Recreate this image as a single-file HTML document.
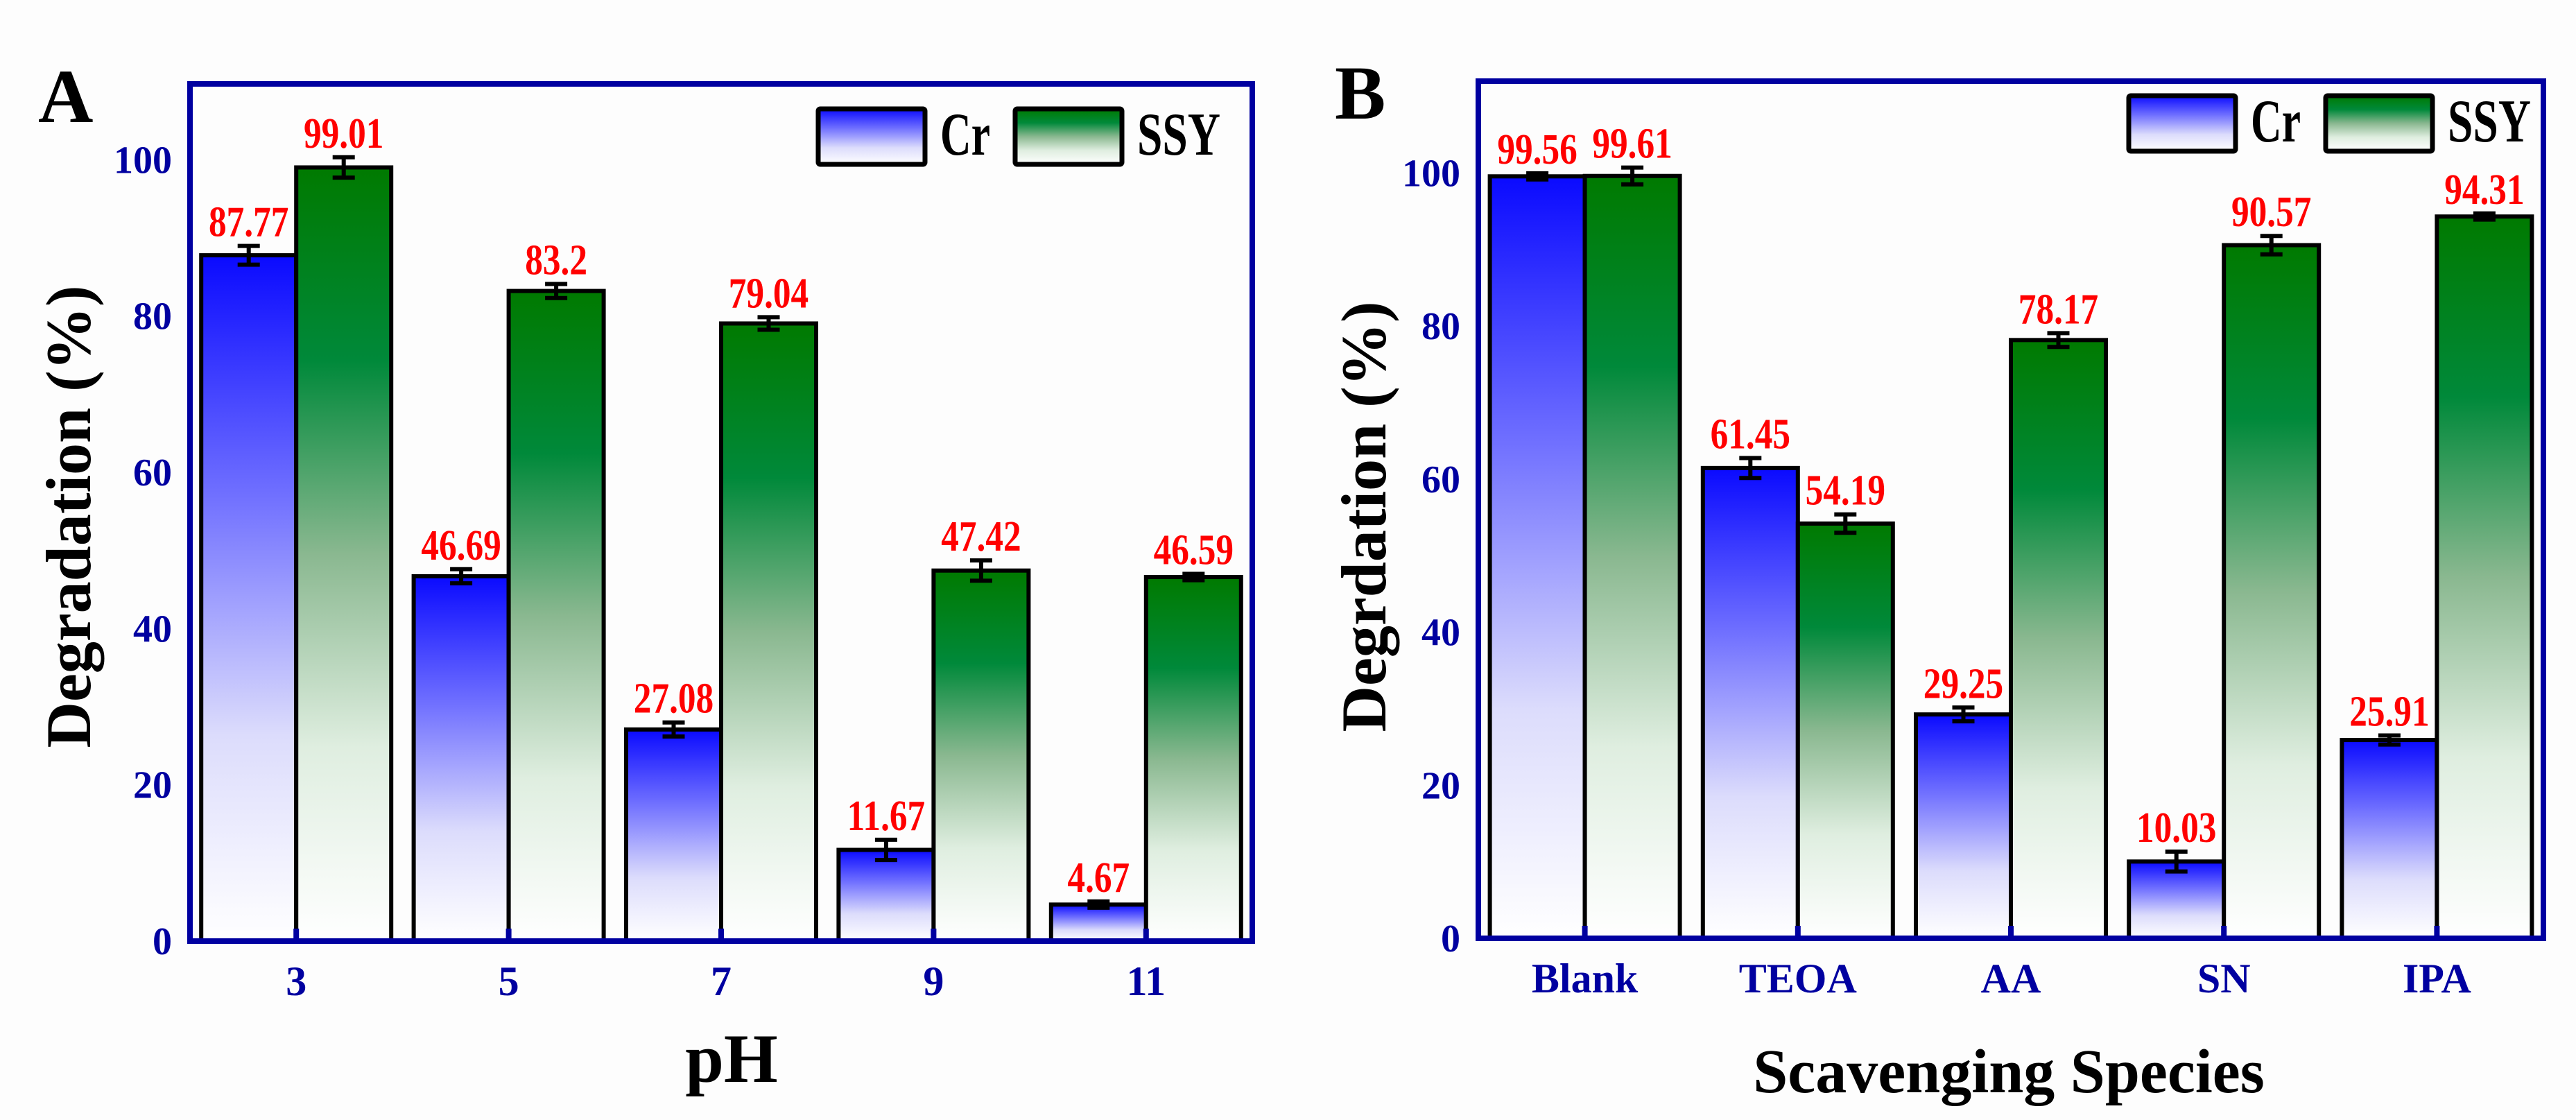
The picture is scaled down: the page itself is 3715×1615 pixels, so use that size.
<!DOCTYPE html>
<html><head><meta charset="utf-8"><style>
html,body{margin:0;padding:0;background:#fdfdfd;}
svg{display:block;}
text{font-family:"Liberation Serif",serif;}
</style></head>
<body>
<svg id="fig" xmlns="http://www.w3.org/2000/svg" width="3715" height="1615" viewBox="0 0 3715 1615">
<defs>
<linearGradient id="gBlue" x1="0" y1="0" x2="0" y2="1">
<stop offset="0" stop-color="#0a0aff"/><stop offset="0.35" stop-color="#7070ff"/><stop offset="0.7" stop-color="#dcdcfc"/><stop offset="1" stop-color="#ffffff"/>
</linearGradient>
<linearGradient id="gGreen" x1="0" y1="0" x2="0" y2="1">
<stop offset="0" stop-color="#007a00"/><stop offset="0.25" stop-color="#00893a"/><stop offset="0.5" stop-color="#8ab890"/><stop offset="0.75" stop-color="#dfeee0"/><stop offset="1" stop-color="#ffffff"/>
</linearGradient>
</defs>
<g id="panelA"></g>
<g id="panelB"></g>
</svg>
<script>
const catsA = ["3","5","7","9","11"];
const crA = [87.77, 46.69, 27.08, 11.67, 4.67];
const ssyA = [99.01, 83.2, 79.04, 47.42, 46.59];
const crErrA = [1.2, 0.9, 0.9, 1.3, 0.4];
const ssyErrA = [1.3, 0.9, 0.8, 1.3, 0.4];
const crLblA = ["87.77","46.69","27.08","11.67","4.67"];
const ssyLblA = ["99.01","83.2","79.04","47.42","46.59"];

const catsB = ["Blank","TEOA","AA","SN","IPA"];
const crB = [99.56, 61.45, 29.25, 10.03, 25.91];
const ssyB = [99.61, 54.19, 78.17, 90.57, 94.31];
const crErrB = [0.4, 1.3, 0.9, 1.3, 0.6];
const ssyErrB = [1.1, 1.2, 0.9, 1.2, 0.4];
const crLblB = ["99.56","61.45","29.25","10.03","25.91"];
const ssyLblB = ["99.61","54.19","78.17","90.57","94.31"];

const yTicks = [0,20,40,60,80,100];

const NS = "http://www.w3.org/2000/svg";
function mk(parent, tag, attrs, txt){
  const e = document.createElementNS(NS, tag);
  for (const k in attrs) e.setAttribute(k, attrs[k]);
  if (txt !== undefined) e.textContent = txt;
  parent.appendChild(e);
  return e;
}

function drawPanel(g, cfg){
  const {L,R,T,B,yMax,cats,cr,ssy,crErr,ssyErr,crLbl,ssyLbl} = cfg;
  const n = cats.length;
  const slot = (R-L)/n;
  const xC = i => L + slot*(i+0.5);
  const yS = v => B - (B-T)*v/yMax;
  const bw = 137;

  let t;
  t = mk(g,"text",{x:cfg.letterX,y:cfg.letterY,"font-size":110,"font-weight":"bold",fill:"#000"},cfg.letter);
  
  

  const series = [[cr,crErr,crLbl,"url(#gBlue)",-1,"cr"],[ssy,ssyErr,ssyLbl,"url(#gGreen)",0,"ssy"]];
  series.forEach(([vals,errs,lbls,fill,off,nm])=>{
    vals.forEach((v,i)=>{
      const x = xC(i) + off*bw;
      const y = yS(v);
      const r = mk(g,"rect",{x:x,y:y,width:bw,height:B-y,fill:fill,stroke:"#000","stroke-width":6});
      
      
      const cx = x + bw/2;
      const e1 = yS(v+errs[i]), e2 = yS(v-errs[i]);
      const eb = mk(g,"path",{d:`M${cx},${e1}V${e2}M${cx-16},${e1}H${cx+16}M${cx-16},${e2}H${cx+16}`,stroke:"#000","stroke-width":6,fill:"none"});
      
      
      const ly = e1-14;
      const lb = mk(g,"text",{x:cx,y:ly,"text-anchor":"middle","font-size":54,"font-weight":"bold",fill:"#ff0000",transform:`translate(${cx},${ly}) scale(0.95,1.15) translate(${-cx},${-ly})`},lbls[i]);
      
      
    });
  });

  const fr = mk(g,"rect",{x:L,y:T,width:R-L,height:B-T,fill:"none",stroke:"#0000a0","stroke-width":8});
  
  

  yTicks.forEach(v=>{
    const y = yS(v);
    const tk = mk(g,"text",{x:L-26,y:y+19,"text-anchor":"end","font-size":56,"font-weight":"bold",fill:"#0000a0"},String(v));
    
    
  });
  cats.forEach((c,i)=>{
    const x = xC(i);
    const tm = mk(g,"line",{x1:x,x2:x,y1:B,y2:B-18,stroke:"#0000a0","stroke-width":8});
    
    
    const tl = mk(g,"text",{x:x,y:B+78,"text-anchor":"middle","font-size":60,"font-weight":"bold",fill:"#0000a0"},c);
    
    
  });

  t = mk(g,"text",{x:cfg.xtX,y:cfg.xtY,"text-anchor":"middle","font-size":cfg.xtSize,"font-weight":"bold",fill:"#000"},cfg.xTitle);
  
  
  t = mk(g,"text",{x:0,y:0,"text-anchor":"middle","font-size":92,"font-weight":"bold",fill:"#000",transform:`translate(${cfg.ytX},${cfg.ytY}) rotate(-90)`},cfg.yTitle);
  
  

  const lg = mk(g,"g",{});
  
  
  const lx = cfg.legX, ly = cfg.legY;
  const items = [["Cr","url(#gBlue)",0,72],["SSY","url(#gGreen)",284,120]];
  items.forEach(([name,fill,dx,tw])=>{
    const e = mk(lg,"g",{});
    
    
    mk(e,"rect",{x:lx+dx,y:ly,width:154,height:80,fill:fill,stroke:"#000","stroke-width":7,rx:3});
    mk(e,"text",{x:lx+dx+176,y:ly+66,"font-size":88,"font-weight":"bold",fill:"#000",textLength:tw,lengthAdjust:"spacingAndGlyphs"},name);
  });
}

drawPanel(document.getElementById("panelA"),{
  L:274,R:1806,T:121,B:1357,yMax:109.7,cats:catsA,cr:crA,ssy:ssyA,crErr:crErrA,ssyErr:ssyErrA,crLbl:crLblA,ssyLbl:ssyLblA,
  letter:"A",letterX:55,letterY:176,xTitle:"pH",xtX:1055,xtY:1560,xtSize:100,yTitle:"Degradation (%)",ytX:130,ytY:745,
  legX:1180,legY:157
});
drawPanel(document.getElementById("panelB"),{
  L:2132,R:3668,T:117,B:1353,yMax:112,cats:catsB,cr:crB,ssy:ssyB,crErr:crErrB,ssyErr:ssyErrB,crLbl:crLblB,ssyLbl:ssyLblB,
  letter:"B",letterX:1925,letterY:171,xTitle:"Scavenging Species",xtX:2897,xtY:1575,xtSize:90,yTitle:"Degrdation (%)",ytX:1998,ytY:745,
  legX:3070,legY:138
});
</script>
</body></html>
